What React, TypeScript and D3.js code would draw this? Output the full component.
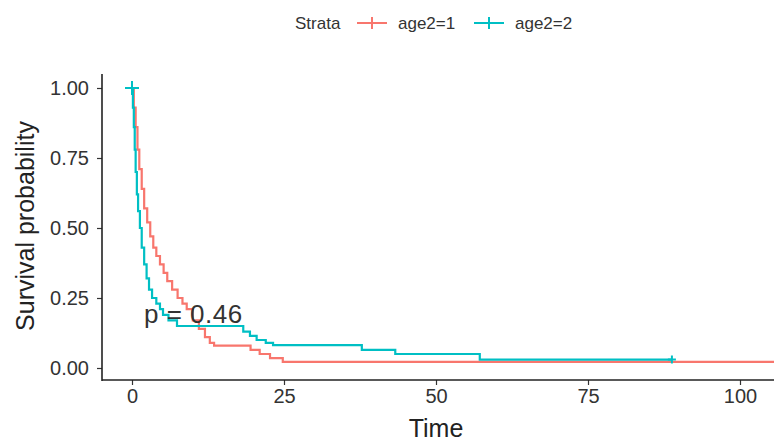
import React, {useEffect, useRef} from "react";
import * as d3 from "d3";

// survival steps: [time, survival]
const age2_1 = [
  [0, 1.0], [0.3, 0.93], [0.6, 0.86], [0.9, 0.78], [1.2, 0.71], [1.6, 0.64],
  [2.0, 0.57], [2.5, 0.52], [3.0, 0.47], [3.5, 0.43], [4.0, 0.40], [4.6, 0.37],
  [5.2, 0.34], [5.8, 0.31], [6.6, 0.28], [7.5, 0.25], [8.3, 0.23], [9.0, 0.21],
  [10.0, 0.17], [11.0, 0.14], [12.0, 0.11], [12.8, 0.09], [13.5, 0.08],
  [19.5, 0.065], [21.0, 0.05], [22.7, 0.035], [24.8, 0.022], [105.6, 0.022]
];
const age2_2 = [
  [0, 1.0], [0.15, 0.93], [0.3, 0.86], [0.45, 0.78], [0.6, 0.70], [0.8, 0.62],
  [1.0, 0.56], [1.3, 0.50], [1.6, 0.43], [2.0, 0.37], [2.4, 0.32], [2.8, 0.28],
  [3.3, 0.25], [4.0, 0.23], [4.6, 0.21], [5.1, 0.19], [6.0, 0.17], [7.4, 0.15],
  [18.3, 0.13], [19.4, 0.115], [20.5, 0.10], [22.0, 0.09], [23.2, 0.082],
  [37.8, 0.065], [43.3, 0.05], [57.2, 0.03], [88.8, 0.03]
];
const strata = ["age2=1", "age2=2"];
const colors = ["#F8766D", "#00BFC4"];
const xTicks = [0, 25, 50, 75, 100];
const yTicks = [0, 0.25, 0.5, 0.75, 1];
// [strata index, time, surv, mark size]
const censorPoints = [[0, 0, 1.0, 7], [1, 0, 1.0, 7], [1, 88.8, 0.03, 4]];
const pValue = "p = 0.46";

export default function App() {
  const svgRef = useRef<SVGSVGElement>(null);
  const width = 774;
  const height = 444;

  useEffect(() => {
    const svg = d3.select(svgRef.current);
    svg.selectAll("*").remove();

    const xScale = d3.scaleLinear().domain([0, 100]).range([132, 740]);
    const yScale = d3.scaleLinear().domain([0, 1]).range([368, 88]);
    const font = "'Liberation Sans', Arial, sans-serif";

    svg.append("rect").attr("width", width).attr("height", height).attr("fill", "#fff");

    const lineGen = d3.line<number[]>()
      .x(d => xScale(d[0]))
      .y(d => yScale(d[1]))
      .curve(d3.curveStepAfter);

    [age2_1, age2_2].forEach((data, i) => {
      svg.append("path")
        .datum(data)
        .attr("fill", "none")
        .attr("stroke", colors[i])
        .attr("stroke-width", 2.2)
        .attr("d", lineGen);
    });

    // censor marks
    censorPoints.forEach(([s, t, v, r]) => {
      const cx = xScale(t), cy = yScale(v);
      svg.append("path")
        .attr("d", `M${cx - r},${cy}H${cx + r}M${cx},${cy - r}V${cy + r}`)
        .attr("stroke", colors[s])
        .attr("stroke-width", 2);
    });

    // axes
    const xAxis = svg.append("g")
      .attr("transform", "translate(0,380)")
      .call(d3.axisBottom(xScale).tickValues(xTicks).tickSize(5).tickPadding(4).tickFormat(d3.format("d")));
    xAxis.select(".domain").remove();
    xAxis.append("line").attr("x1", 102).attr("x2", width).attr("stroke", "#222").attr("stroke-width", 1.6);

    const yAxis = svg.append("g")
      .attr("transform", "translate(102,0)")
      .call(d3.axisLeft(yScale).tickValues(yTicks).tickSize(5).tickPadding(8).tickFormat(d3.format(".2f")));
    yAxis.select(".domain").remove();
    yAxis.append("line").attr("y1", 74).attr("y2", 381).attr("stroke", "#222").attr("stroke-width", 1.6);

    [xAxis, yAxis].forEach(ax => {
      ax.selectAll(".tick line").attr("stroke", "#333").attr("stroke-width", 1.2);
      ax.selectAll(".tick text")
        .attr("fill", "#333")
        .style("font-family", font)
        .style("font-size", "20px");
    });

    // p value
    svg.append("text")
      .attr("x", 144).attr("y", 323)
      .attr("fill", "#333")
      .style("font-family", font)
      .style("font-size", "26px")
      .style("letter-spacing", "0.5px")
      .text(pValue);

    // axis titles
    svg.append("text")
      .attr("x", 436).attr("y", 437)
      .attr("text-anchor", "middle")
      .attr("fill", "#222")
      .style("font-family", font)
      .style("font-size", "25px")
      .text("Time");

    svg.append("text")
      .attr("transform", "translate(34,226) rotate(-90)")
      .attr("text-anchor", "middle")
      .attr("fill", "#222")
      .style("font-family", font)
      .style("font-size", "25px")
      .text("Survival probability");

    // legend
    const legend = svg.append("g").attr("transform", "translate(0,23)");
    legend.append("text")
      .attr("x", 295).attr("y", 6)
      .attr("fill", "#333")
      .style("font-family", font)
      .style("font-size", "17px")
      .text("Strata");

    const keyX = [372, 489];
    strata.forEach((s, i) => {
      const kx = keyX[i];
      legend.append("path")
        .attr("d", `M${kx - 15},0H${kx + 15}M${kx},-6V6`)
        .attr("stroke", colors[i])
        .attr("stroke-width", 2);
      legend.append("text")
        .attr("x", kx + 26).attr("y", 6)
        .attr("fill", "#333")
        .style("font-family", font)
        .style("font-size", "17px")
        .text(s);
    });
  }, []);

  return (
    <svg ref={svgRef} width={width} height={height}
      style={{position: "absolute", left: 0, top: 0, display: "block"}} />
  );
}
